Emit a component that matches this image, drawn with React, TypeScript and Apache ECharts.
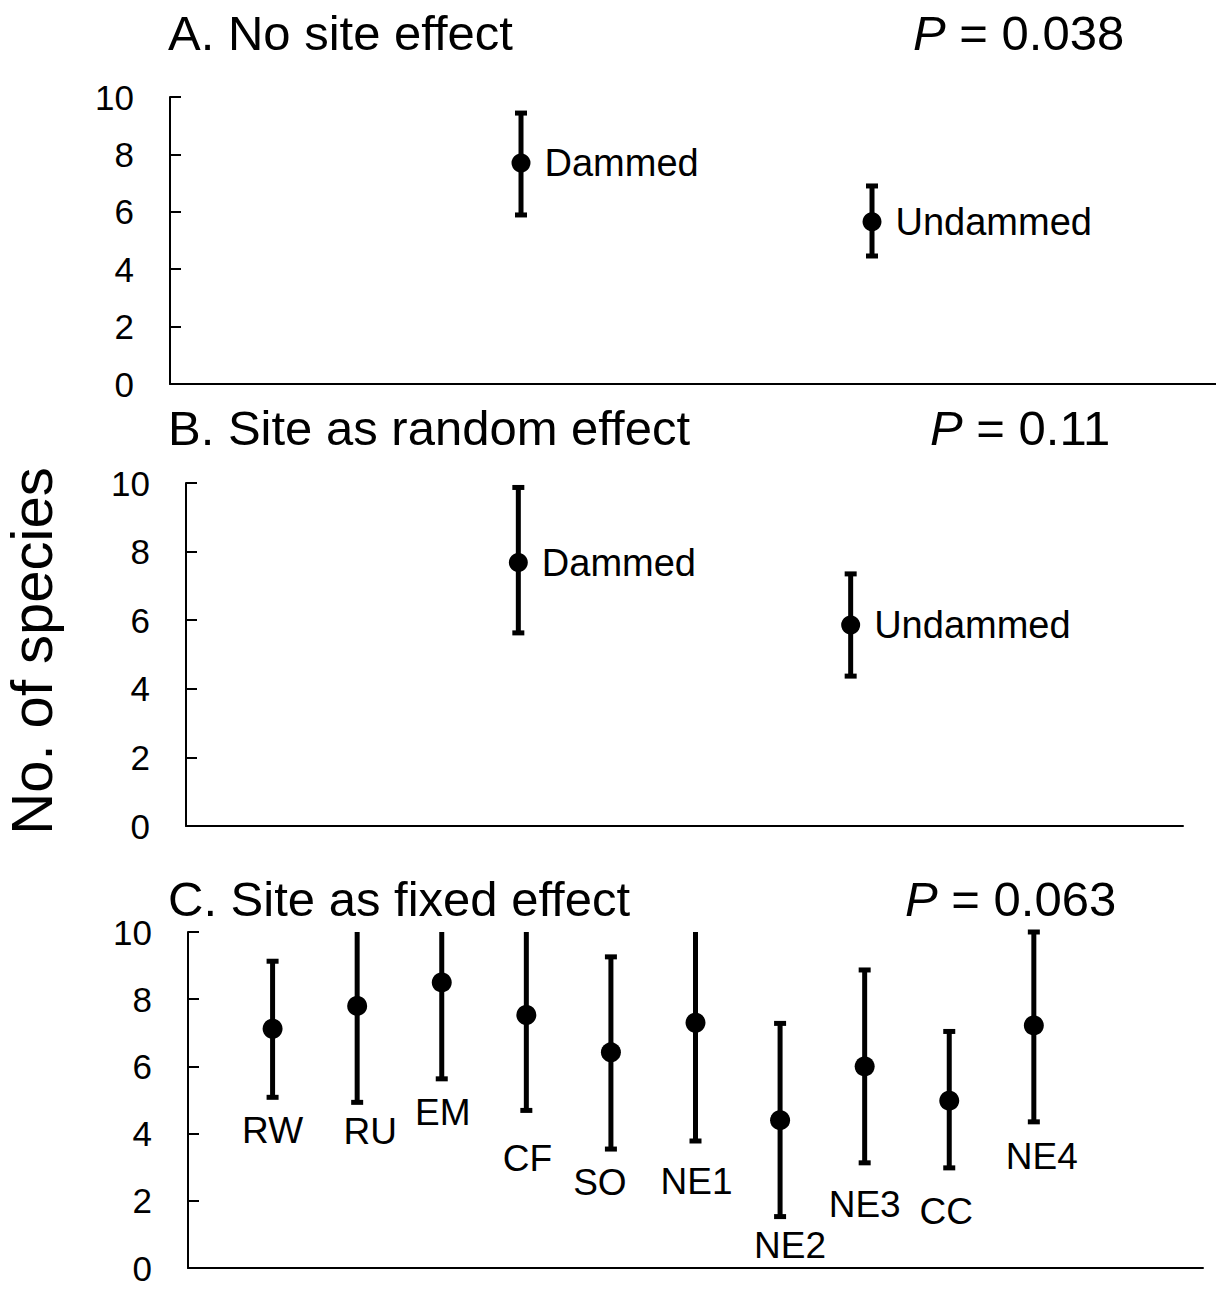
import React, { useEffect, useRef } from "react";
import * as echarts from "echarts";

// ---- data ----
const groups = ["Dammed", "Undammed"];
const meanA = [7.7, 5.65];
const lowA = [5.89, 4.46];
const highA = [9.44, 6.9];
const meanB = [7.68, 5.86];
const lowB = [5.63, 4.37];
const highB = [9.87, 7.35];

const sites = ["RW", "RU", "EM", "CF", "SO", "NE1", "NE2", "NE3", "CC", "NE4"];
const siteMean = [7.12, 7.8, 8.5, 7.53, 6.42, 7.3, 4.4, 6.0, 4.98, 7.22];
const siteLow = [5.08, 4.93, 5.63, 4.69, 3.54, 3.78, 1.53, 3.13, 2.98, 4.35];
const siteHigh = [9.13, 10.67, 11.37, 10.37, 9.26, 10.82, 7.28, 8.87, 7.04, 10.0];
// label placement (annotation positions, y in axis units, x shift in px)
const siteLabelY = [4.1, 4.05, 4.62, 3.27, 2.55, 2.58, 0.66, 1.9, 1.67, 3.32];
const siteLabelDx = [0, 13, 1, 1, -11, 1, 10, 0, -3, 8];

const yTicks = [0, 2, 4, 6, 8, 10];
const titles = ["A. No site effect", "B. Site as random effect", "C. Site as fixed effect"];
const pValues = ["0.038", "0.11", "0.063"];

const FONT = "'Liberation Sans', Arial, Helvetica, sans-serif";
const Y_MAX = yTicks[yTicks.length - 1];

function errRender(params: any, api: any) {
  const x = api.value(0);
  const lo = api.value(1);
  const hi = api.value(2);
  const topVal = Math.min(hi, Y_MAX);
  const top = api.coord([x, topVal]);
  const bot = api.coord([x, lo]);
  const children: any[] = [
    {
      type: "line",
      shape: { x1: top[0], y1: top[1], x2: bot[0], y2: bot[1] },
      style: { stroke: "#000", lineWidth: 5 },
    },
    {
      type: "rect",
      shape: { x: bot[0] - 6, y: bot[1] - 2.5, width: 12, height: 5 },
      style: { fill: "#000" },
    },
  ];
  if (hi <= Y_MAX) {
    children.push({
      type: "rect",
      shape: { x: top[0] - 6, y: top[1] - 2.5, width: 12, height: 5 },
      style: { fill: "#000" },
    });
  }
  return { type: "group", children };
}

export default function App() {
  const ref = useRef<HTMLDivElement>(null);
  useEffect(() => {
    document.body.style.margin = "0";
    const chart = echarts.init(ref.current!, null, { renderer: "svg" });

    const grids = [
      { left: 170, top: 97, width: 1046, height: 287 },
      { left: 186, top: 483, width: 997, height: 343 },
      { left: 188, top: 932, width: 1015, height: 336 },
    ];
    const xMax = [2.98, 3, 12];

    const yAxis = grids.map((_, i) => ({
      type: "value",
      gridIndex: i,
      min: 0,
      max: Y_MAX,
      interval: 2,
      axisLine: { show: true, lineStyle: { color: "#000", width: 2 } },
      axisTick: { show: true, inside: true, length: 11, lineStyle: { color: "#000", width: 2 } },
      axisLabel: { color: "#000", fontSize: 35, fontFamily: FONT, margin: 36 },
      splitLine: { show: false },
    }));
    const xAxis = grids.map((_, i) => ({
      type: "value",
      gridIndex: i,
      min: 0,
      max: xMax[i],
      axisLine: { show: true, onZero: false, lineStyle: { color: "#000", width: 2 } },
      axisTick: { show: false },
      axisLabel: { show: false },
      splitLine: { show: false },
    }));

    const abSets = [
      { mean: meanA, low: lowA, high: highA },
      { mean: meanB, low: lowB, high: highB },
    ];
    const series: any[] = [];
    abSets.forEach((s, gi) => {
      series.push({
        type: "custom",
        xAxisIndex: gi,
        yAxisIndex: gi,
        renderItem: errRender,
        data: groups.map((_, k) => [k + 1, s.low[k], s.high[k]]),
        encode: { x: 0, y: [1, 2] },
        z: 2,
      });
      series.push({
        type: "scatter",
        xAxisIndex: gi,
        yAxisIndex: gi,
        symbol: "circle",
        symbolSize: 19,
        itemStyle: { color: "#000", opacity: 1 },
        data: groups.map((g, k) => ({ value: [k + 1, s.mean[k]], name: g })),
        label: {
          show: true,
          position: "right",
          distance: 14,
          formatter: (p: any) => p.name,
          color: "#000",
          fontSize: 38,
          fontFamily: FONT,
        },
        z: 3,
      });
    });
    series.push({
      type: "custom",
      xAxisIndex: 2,
      yAxisIndex: 2,
      renderItem: errRender,
      data: sites.map((_, k) => [k + 1, siteLow[k], siteHigh[k]]),
      encode: { x: 0, y: [1, 2] },
      z: 2,
    });
    series.push({
      type: "scatter",
      xAxisIndex: 2,
      yAxisIndex: 2,
      symbol: "circle",
      symbolSize: 20,
      itemStyle: { color: "#000", opacity: 1 },
      data: sites.map((s, k) => ({ value: [k + 1, siteMean[k]], name: s })),
      z: 3,
    });
    series.push({
      type: "scatter",
      xAxisIndex: 2,
      yAxisIndex: 2,
      symbolSize: 1,
      itemStyle: { color: "rgba(0,0,0,0)", opacity: 1 },
      data: sites.map((s, k) => ({
        value: [k + 1, siteLabelY[k]],
        name: s,
        label: { offset: [siteLabelDx[k], 0] },
      })),
      label: {
        show: true,
        position: "inside",
        formatter: (p: any) => p.name,
        color: "#000",
        fontSize: 37,
        fontFamily: FONT,
      },
      z: 4,
    });

    const titleY = [33, 428, 899];
    const pX = [913, 930, 905];
    const graphic: any[] = [];
    titles.forEach((t, i) => {
      graphic.push({
        type: "text",
        x: 168,
        y: titleY[i],
        style: {
          text: t,
          fill: "#000",
          font: `49px ${FONT}`,
          textAlign: "left",
          textVerticalAlign: "middle",
          align: "left",
          verticalAlign: "middle",
        },
      });
      graphic.push({
        type: "text",
        x: pX[i],
        y: titleY[i],
        style: {
          text: `{i|P} = ${pValues[i]}`,
          fill: "#000",
          font: `49px ${FONT}`,
          fontSize: 49,
          fontFamily: FONT,
          textAlign: "left",
          textVerticalAlign: "middle",
          align: "left",
          verticalAlign: "middle",
          rich: {
            i: { fontStyle: "italic", fontSize: 49, fontFamily: FONT, fill: "#000" },
          },
        },
      });
    });
    graphic.push({
      type: "text",
      x: 31,
      y: 651,
      rotation: Math.PI / 2,
      style: {
        text: "No. of species",
        fill: "#000",
        font: `58px ${FONT}`,
        textAlign: "center",
        textVerticalAlign: "middle",
        align: "center",
        verticalAlign: "middle",
      },
    });

    chart.setOption({
      animation: false,
      backgroundColor: "#fff",
      grid: grids,
      xAxis,
      yAxis,
      series,
      graphic,
    });
    return () => chart.dispose();
  }, []);
  return <div ref={ref} style={{ width: 1216, height: 1289 }} />;
}
